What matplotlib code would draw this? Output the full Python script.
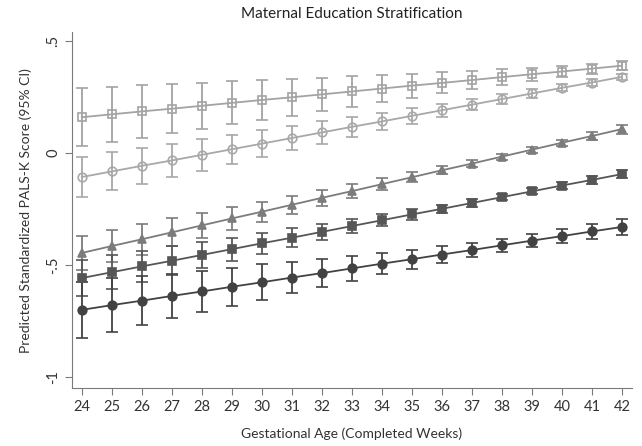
import matplotlib
matplotlib.use("Agg")
import matplotlib.pyplot as plt

# semanas de gestacion completas
semanas = list(range(24, 43))

# puntaje PALS-K estandarizado predicho, por nivel de educacion materna
cuadro_abierto = [0.160, 0.173, 0.186, 0.198, 0.211, 0.224, 0.237, 0.249, 0.262, 0.275,
                  0.288, 0.301, 0.313, 0.326, 0.339, 0.352, 0.364, 0.377, 0.390]
circulo_abierto = [-0.107, -0.082, -0.057, -0.033, -0.008, 0.017, 0.042, 0.067, 0.092, 0.117,
                   0.141, 0.166, 0.191, 0.216, 0.241, 0.266, 0.291, 0.315, 0.340]
triangulo = [-0.446, -0.415, -0.385, -0.354, -0.323, -0.292, -0.262, -0.231, -0.200, -0.170,
             -0.139, -0.108, -0.077, -0.047, -0.016, 0.015, 0.046, 0.076, 0.107]
cuadro_lleno = [-0.558, -0.532, -0.506, -0.481, -0.455, -0.429, -0.403, -0.378, -0.352, -0.326,
                -0.300, -0.274, -0.249, -0.223, -0.197, -0.171, -0.145, -0.120, -0.094]
circulo_lleno = [-0.700, -0.679, -0.659, -0.638, -0.618, -0.597, -0.577, -0.556, -0.536, -0.515,
                 -0.494, -0.474, -0.453, -0.433, -0.412, -0.391, -0.371, -0.350, -0.330]

# semiamplitud del IC 95%
ic_cuadro_abierto = [0.130, 0.124, 0.117, 0.110, 0.103, 0.096, 0.089, 0.082, 0.075, 0.068,
                     0.061, 0.054, 0.047, 0.041, 0.035, 0.030, 0.025, 0.022, 0.020]
ic_circulo_abierto = [0.090, 0.085, 0.080, 0.075, 0.070, 0.065, 0.060, 0.055, 0.050, 0.045,
                      0.040, 0.035, 0.030, 0.025, 0.021, 0.018, 0.016, 0.015, 0.015]
ic_triangulo = [0.076, 0.072, 0.068, 0.062, 0.056, 0.050, 0.045, 0.040, 0.035, 0.030,
                0.026, 0.022, 0.018, 0.015, 0.013, 0.013, 0.014, 0.016, 0.020]
ic_cuadro_lleno = [0.080, 0.075, 0.070, 0.064, 0.058, 0.052, 0.047, 0.042, 0.036, 0.031,
                   0.027, 0.023, 0.019, 0.016, 0.014, 0.013, 0.014, 0.016, 0.018]
ic_circulo_lleno = [0.125, 0.120, 0.110, 0.100, 0.090, 0.085, 0.080, 0.068, 0.062, 0.054,
                    0.048, 0.042, 0.037, 0.033, 0.030, 0.030, 0.030, 0.032, 0.035]

ticks_y = [-1, -0.5, 0, 0.5]
etiquetas_y = ["-1", "-.5", "0", ".5"]

plt.rcParams["font.family"] = ["Lato", "DejaVu Sans"]

fig = plt.figure(figsize=(6.42, 4.46), dpi=100)
ax = fig.add_axes([0.112, 0.130, 0.872, 0.798])

series = [
    (cuadro_abierto, ic_cuadro_abierto, "s", "#a3a3a3", "none"),
    (circulo_abierto, ic_circulo_abierto, "o", "#a8a8a8", "none"),
    (triangulo, ic_triangulo, "^", "#7c7c7c", "#7c7c7c"),
    (cuadro_lleno, ic_cuadro_lleno, "s", "#565656", "#565656"),
    (circulo_lleno, ic_circulo_lleno, "o", "#424242", "#424242"),
]

for valores, ic, marca, color, relleno in series:
    ax.errorbar(semanas, valores, yerr=ic, color=color, marker=marca, markersize=6.2,
                markerfacecolor=relleno, markeredgecolor=color, markeredgewidth=1.2,
                linewidth=1.3, elinewidth=1.3, capsize=4, capthick=1.3)

ax.set_xlim(23.67, 42.33)
ax.set_ylim(-1.049, 0.54)
ax.set_xticks(semanas)
ax.set_yticks(ticks_y)
ax.set_yticklabels(etiquetas_y, rotation=90, va="center")

for lado in ("top", "right"):
    ax.spines[lado].set_visible(False)
for lado in ("left", "bottom"):
    ax.spines[lado].set_color("#7a7a7a")
ax.tick_params(colors="#7a7a7a", labelcolor="#333333", labelsize=10.5, length=5)

ax.set_xlabel("Gestational Age (Completed Weeks)", fontsize=10, color="#333333", labelpad=10)
ax.set_ylabel("Predicted Standardized PALS-K Score (95% CI)", fontsize=10, color="#333333",
              labelpad=10)
ax.set_title("Maternal Education Stratification", fontsize=11, color="#222222", pad=10)

fig.savefig("out.png", dpi=100)
